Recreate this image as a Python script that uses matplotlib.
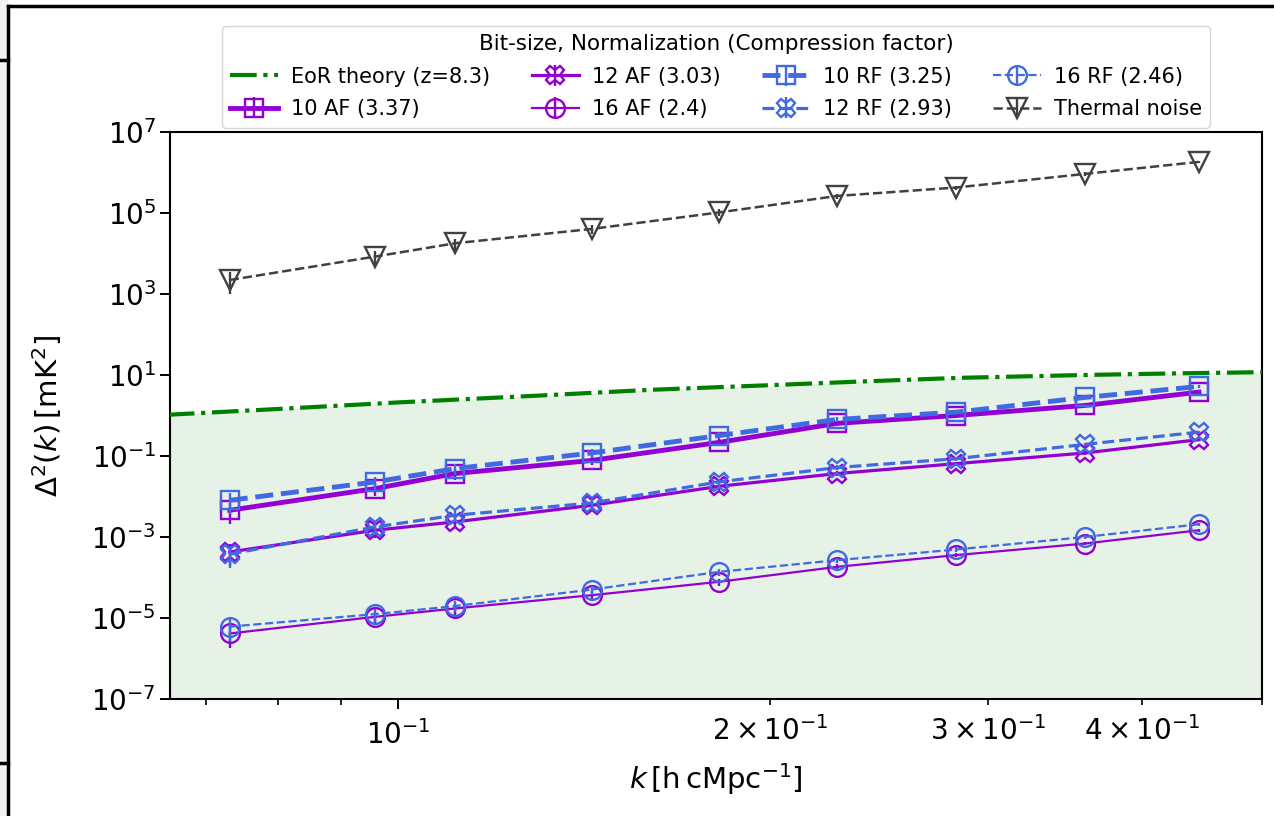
import numpy as np
import matplotlib
matplotlib.use("Agg")
import matplotlib.pyplot as plt
from matplotlib.lines import Line2D
from matplotlib.patches import Rectangle
from matplotlib.ticker import NullLocator

# ---------------- data ----------------
k_bins = [0.0731, 0.0958, 0.1112, 0.1435, 0.1818, 0.2266, 0.2829, 0.3596, 0.4446]

theory_k = [0.060, 0.0654, 0.08, 0.10, 0.13, 0.16, 0.20, 0.24, 0.285, 0.36, 0.43, 0.50, 0.55]
theory_vals = [0.90, 1.05, 1.45, 2.1, 3.1, 4.3, 5.6, 7.0, 8.5, 10.0, 11.0, 11.7, 12.1]

af10 = [4.6e-3, 1.57e-2, 3.7e-2, 7.8e-2, 0.217, 0.64, 1.0, 1.77, 3.77]
af12 = [4.3e-4, 1.48e-3, 2.37e-3, 6.1e-3, 1.79e-2, 3.7e-2, 6.5e-2, 0.119, 0.254]
af16 = [4.2e-6, 1.08e-5, 1.74e-5, 3.7e-5, 7.9e-5, 1.85e-4, 3.6e-4, 6.95e-4, 1.48e-3]
rf10 = [8.1e-3, 2.29e-2, 4.9e-2, 0.119, 0.32, 0.80, 1.21, 2.79, 5.2]
rf12 = [3.8e-4, 1.78e-3, 3.46e-3, 6.95e-3, 2.3e-2, 5.2e-2, 8.6e-2, 0.194, 0.39]
rf16 = [6.2e-6, 1.26e-5, 1.99e-5, 5.1e-5, 1.39e-4, 2.7e-4, 4.96e-4, 1.01e-3, 2.08e-3]
thermal = [2.2e3, 8.3e3, 1.77e4, 4.0e4, 1.02e5, 2.6e5, 4.2e5, 9.1e5, 1.8e6]

# relative 1-sigma errors per k bin (estimated)
rel_err = [0.55, 0.35, 0.3, 0.25, 0.2, 0.15, 0.12, 0.1, 0.08]

labels_af = ["10 AF (3.37)", "12 AF (3.03)", "16 AF (2.4)"]
labels_rf = ["10 RF (3.25)", "12 RF (2.93)", "16 RF (2.46)"]
label_theory = "EoR theory (z=8.3)"
label_thermal = "Thermal noise"
legend_title = "Bit-size, Normalization (Compression factor)"

y_ticks = [1e-7, 1e-5, 1e-3, 1e-1, 1e1, 1e3, 1e5, 1e7]

# ---------------- figure ----------------
W, H = 1274, 816
fig = plt.figure(figsize=(W / 100, H / 100), dpi=100)
ax = fig.add_axes([170 / W, 1 - 699.3 / H, (1262 - 170) / W, (699.3 - 131.7) / H])

c_af = "#9400D3"
c_rf = "#4169E1"
c_th = "#404040"

ax.plot(theory_k, theory_vals, color="green", ls="-.", lw=3.0, label=label_theory, zorder=3)
ax.fill_between(theory_k, 1e-7, theory_vals, color="green", alpha=0.1, lw=0, zorder=1)

lws = [3.5, 2.3, 1.6]
markers = ["s", "X", "o"]
ms = 13.5

for vals, lab, lw, mk in zip([af10, af12, af16], labels_af, lws, markers):
    v = np.array(vals)
    ax.errorbar(k_bins, v, yerr=v * np.array(rel_err), color=c_af, ls="-", lw=lw,
                marker=mk, ms=ms, mfc="none", mec=c_af, mew=1.7, elinewidth=1.7,
                capsize=0, label=lab, zorder=4)

for vals, lab, lw, mk in zip([rf10, rf12, rf16], labels_rf, lws, markers):
    v = np.array(vals)
    ax.errorbar(k_bins, v, yerr=v * np.array(rel_err), color=c_rf, ls="--", lw=lw,
                marker=mk, ms=ms, mfc="none", mec=c_rf, mew=1.7, elinewidth=1.7,
                capsize=0, label=lab, zorder=5)

tv = np.array(thermal)
ax.errorbar(k_bins, tv, yerr=tv * np.array(rel_err), color=c_th, ls="--", lw=1.8,
            marker="v", ms=14, mfc="none", mec=c_th, mew=1.7, elinewidth=1.7,
            capsize=0, label=label_thermal, zorder=5)

ax.set_xscale("log")
ax.set_yscale("log")
ax.set_xlim(0.0654, 0.5)
ax.set_ylim(1e-7, 1e7)
ax.set_yticks(y_ticks)
ax.yaxis.set_minor_locator(NullLocator())

for s in ax.spines.values():
    s.set_linewidth(1.5)
ax.tick_params(which="major", length=7, width=1.4, labelsize=20, pad=3)
ax.tick_params(which="minor", length=4, width=1.2, labelsize=20, pad=3)
ax.tick_params(axis="x", which="both", pad=8)

ax.set_xlabel(r"$k\,[\mathrm{h\,cMpc^{-1}}]$", fontsize=21, labelpad=8)
ax.set_ylabel(r"$\Delta^2(k)\,[\mathrm{mK}^2]$", fontsize=21, labelpad=20)

leg = ax.legend(loc="lower center", bbox_to_anchor=(0.5, 1.0), ncol=4,
                fontsize=15, title=legend_title, title_fontsize=15.5,
                handlelength=2.3, columnspacing=2.0, borderaxespad=0.2,
                labelspacing=0.6, handletextpad=0.6)

# ---------------- screenshot frame decorations ----------------
fig.add_artist(Rectangle((0, 0), 8 / W, 1, transform=fig.transFigure,
                         facecolor="#f2f2f2", edgecolor="none", zorder=0))
fig.add_artist(Line2D([8 / W, 8 / W], [0, 1 - 6 / H], transform=fig.transFigure,
                      color="black", lw=2.5))
fig.add_artist(Line2D([8 / W, 1], [1 - 6 / H, 1 - 6 / H], transform=fig.transFigure,
                      color="black", lw=2.5))
fig.add_artist(Line2D([0, 8 / W], [1 - 60 / H, 1 - 60 / H], transform=fig.transFigure,
                      color="black", lw=2.5))
fig.add_artist(Line2D([0, 8 / W], [1 - 763 / H, 1 - 763 / H], transform=fig.transFigure,
                      color="black", lw=2.5))

fig.savefig("out.png", dpi=100)
